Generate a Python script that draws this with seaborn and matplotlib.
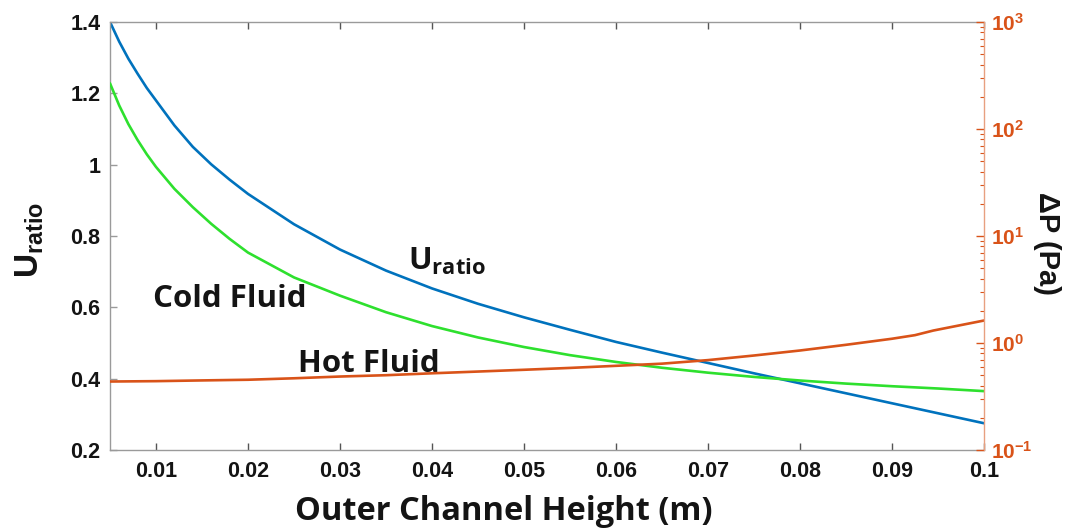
import numpy as np
import pandas as pd
import matplotlib
matplotlib.use("Agg")
import matplotlib.pyplot as plt
import seaborn as sns
from matplotlib.ticker import LogLocator, NullFormatter

# ---- data ----
x_pts = [0.005, 0.006, 0.007, 0.008, 0.009, 0.01, 0.012, 0.014, 0.016, 0.018,
         0.02, 0.025, 0.03, 0.035, 0.04, 0.045, 0.05, 0.055, 0.06, 0.065,
         0.07, 0.075, 0.08, 0.085, 0.09, 0.095, 0.1]
u_ratio = [1.400, 1.345, 1.297, 1.255, 1.215, 1.180, 1.110, 1.050, 1.001, 0.958,
           0.918, 0.833, 0.762, 0.703, 0.653, 0.610, 0.572, 0.537, 0.503, 0.473,
           0.444, 0.415, 0.387, 0.359, 0.331, 0.303, 0.275]
dp_cold = [267, 166, 111, 78.8, 58.0, 44.2, 27.6, 18.6, 13.0, 9.4,
           7.0, 4.1, 2.77, 1.94, 1.44, 1.127, 0.917, 0.770, 0.665, 0.587,
           0.528, 0.482, 0.446, 0.4175, 0.3945, 0.3756, 0.355]

x_hot = [0.005, 0.01, 0.015, 0.02, 0.025, 0.03, 0.035, 0.04, 0.045, 0.05, 0.055,
         0.06, 0.065, 0.07, 0.075, 0.08, 0.085, 0.09, 0.0925, 0.0945, 0.1]
dp_hot = [0.4365, 0.440, 0.447, 0.4535, 0.468, 0.486, 0.50, 0.521, 0.541, 0.562, 0.585,
          0.612, 0.641, 0.692, 0.764, 0.851, 0.962, 1.096, 1.184, 1.308, 1.622]

x_ticks = [0.01, 0.02, 0.03, 0.04, 0.05, 0.06, 0.07, 0.08, 0.09, 0.1]
x_tick_labels = ["0.01", "0.02", "0.03", "0.04", "0.05", "0.06", "0.07", "0.08", "0.09", "0.1"]
u_ticks = [0.2, 0.4, 0.6, 0.8, 1.0, 1.2, 1.4]
u_tick_labels = ["0.2", "0.4", "0.6", "0.8", "1", "1.2", "1.4"]

BLUE = "#0072BD"
ORANGE = "#D95319"
GREEN = "#2EE02E"
GRAY = "#9a9a9a"
DARK = "#141414"

sns.set_style("white")
plt.rcParams["font.family"] = ["Liberation Sans", "DejaVu Sans"]
plt.rcParams["axes.unicode_minus"] = False

fig = plt.figure(figsize=(10.65, 5.31), dpi=100)
ax = fig.add_axes([110 / 1065, 1 - 450 / 531, 874 / 1065, 428 / 531])
ax2 = ax.twinx()

df_u = pd.DataFrame({"x": x_pts, "y": u_ratio})
df_c = pd.DataFrame({"x": x_pts, "y": dp_cold})
df_h = pd.DataFrame({"x": x_hot, "y": dp_hot})

sns.lineplot(data=df_u, x="x", y="y", ax=ax, color=BLUE, linewidth=1.9)
ax2.set_yscale("log")
sns.lineplot(data=df_c, x="x", y="y", ax=ax2, color=GREEN, linewidth=1.9)
sns.lineplot(data=df_h, x="x", y="y", ax=ax2, color=ORANGE, linewidth=1.9)

ax.set_xlim(0.005, 0.1)
ax.set_ylim(0.2, 1.4)
ax2.set_ylim(0.1, 1000)

ax.set_xticks(x_ticks)
ax.set_xticklabels(x_tick_labels)
ax.set_yticks(u_ticks)
ax.set_yticklabels(u_tick_labels)
for lab in ax.get_xticklabels() + ax.get_yticklabels():
    lab.set_fontsize(15.5)
    lab.set_fontweight("bold")
    lab.set_color(DARK)

ax.tick_params(axis="x", which="both", direction="in", top=True, bottom=True,
               length=5, width=1, color="#555555", pad=8)
ax.tick_params(axis="y", which="both", direction="in", left=True, right=False,
               length=5, width=1, color=GRAY, pad=7)

ax2.yaxis.set_major_locator(LogLocator(base=10, numticks=10))
ax2.yaxis.set_minor_locator(LogLocator(base=10, subs=np.arange(2, 10), numticks=20))
ax2.yaxis.set_minor_formatter(NullFormatter())
ax2.tick_params(axis="y", which="major", direction="in", length=6, width=1,
                color=ORANGE, labelcolor=ORANGE, labelsize=15, pad=5)
ax2.tick_params(axis="y", which="minor", direction="in", length=3, width=0.8,
                color=ORANGE)
for lab in ax2.get_yticklabels():
    lab.set_fontweight("bold")

for s in ["left", "bottom", "top"]:
    ax.spines[s].set_color(GRAY)
    ax.spines[s].set_linewidth(1)
    ax2.spines[s].set_visible(False)
ax2.spines["right"].set_color("#E8A080")
ax2.spines["right"].set_linewidth(1)
ax.spines["right"].set_visible(False)

ax.set_xlabel("")
ax.set_ylabel("")
ax2.set_ylabel("")

# axis titles
fig.text(504 / 1065, 1 - 520 / 531, "Outer Channel Height (m)", fontsize=23.5,
         fontweight="bold", family=["Open Sans", "DejaVu Sans"], color=DARK,
         ha="center", va="baseline")
fig.text(30 / 1065, 1 - 240 / 531, r"U$_{\mathregular{ratio}}$", fontsize=24,
         fontweight="bold", color=DARK, rotation=90, ha="center", va="center")
fig.text(1047 / 1065, 1 - 244 / 531, "\u0394P (Pa)", fontsize=21,
         fontweight="bold", color=DARK, rotation=-90, ha="center", va="center")

# in-plot annotations
txt = dict(fontsize=22.5, fontweight="bold", family=["Open Sans", "DejaVu Sans"],
           color=DARK, va="baseline", ha="left")
ax.text(0.0374, 0.705, r"U$_{\mathregular{ratio}}$", **txt)
ax.text(0.00967, 0.601, "Cold Fluid", **txt)
ax.text(0.0254, 0.42, "Hot Fluid", **txt)

fig.savefig("out.png", dpi=100)
